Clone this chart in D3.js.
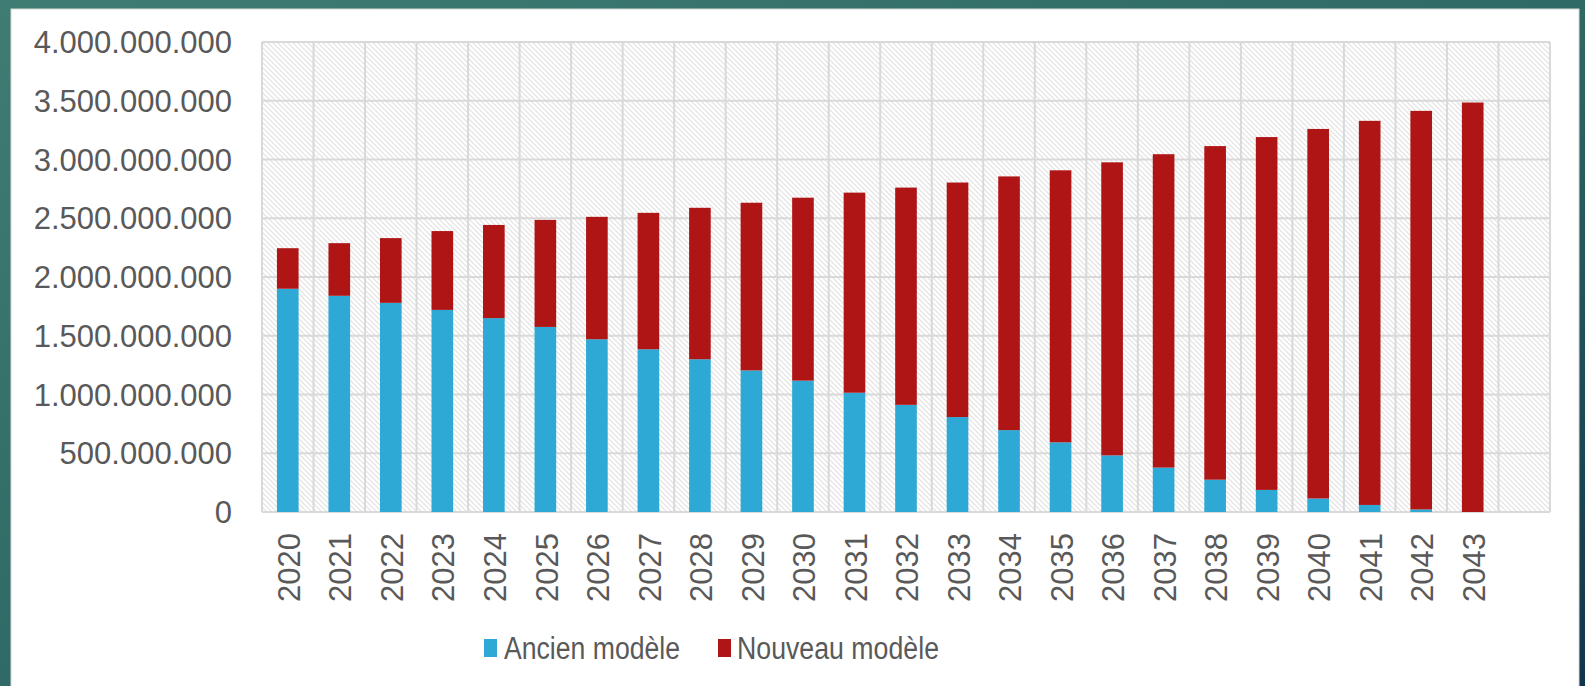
<!DOCTYPE html>
<html><head><meta charset="utf-8">
<script src="https://cdn.jsdelivr.net/npm/d3@7"></script>
<style>html,body{margin:0;padding:0;background:#fff;overflow:hidden}</style>
</head><body>
<svg id="chart" width="1585" height="686"></svg>
<script>
const years = ["2020","2021","2022","2023","2024","2025","2026","2027","2028","2029","2030","2031","2032","2033","2034","2035","2036","2037","2038","2039","2040","2041","2042","2043",""];
const ancien = [1900,1840,1780,1720,1650,1575,1470,1385,1300,1205,1118,1015,912,808,697,593,482,378,275,188,115,60,22,0,0].map(v=>v*1e6);
const nouveau = [345,448,551,671,793,911,1042,1161,1289,1427,1557,1703,1849,1996,2159,2315,2494,2667,2839,3003,3145,3269,3392,3485,0].map(v=>v*1e6);
const yTicks = [0,500000000,1000000000,1500000000,2000000000,2500000000,3000000000,3500000000,4000000000];
const seriesNames = ["Ancien modèle","Nouveau modèle"];
const colors = ["#2EA8D4","#AF1515"];

const svg = d3.select("#chart");
const defs = svg.append("defs");
const grad = defs.append("linearGradient").attr("id","bg").attr("x1","0").attr("y1","0").attr("x2","1").attr("y2","1");
grad.append("stop").attr("offset","0%").attr("stop-color","#3f7d73");
grad.append("stop").attr("offset","50%").attr("stop-color","#2f6a66");
grad.append("stop").attr("offset","100%").attr("stop-color","#10354a");
const pat = defs.append("pattern").attr("id","hatch").attr("patternUnits","userSpaceOnUse").attr("width",5).attr("height",5);
pat.append("rect").attr("width",5).attr("height",5).attr("fill","#ffffff");
pat.append("path").attr("d","M0,0L5,5M-1,4L1,6M4,-1L6,1").attr("stroke","#e2e2e2").attr("stroke-width",1.2);

svg.append("rect").attr("width",1585).attr("height",686).attr("fill","url(#bg)");
svg.append("rect").attr("x",11).attr("y",9).attr("width",1568).attr("height",690).attr("fill","#ffffff").attr("stroke","#d8d8d8").attr("stroke-width",1);

const L=262,R=1550,T=42,B=512;
const x = d3.scaleBand().domain(d3.range(years.length)).range([L,R]).paddingInner(0).paddingOuter(0);
const y = d3.scaleLinear().domain([0,4000000000]).range([B,T]);

svg.append("rect").attr("x",L).attr("y",T).attr("width",R-L).attr("height",B-T).attr("fill","url(#hatch)");

const g = svg.append("g");
g.selectAll("line.h").data(yTicks).join("line")
  .attr("x1",L).attr("x2",R).attr("y1",d=>y(d)).attr("y2",d=>y(d))
  .attr("stroke","#d9d9d9").attr("stroke-width",2);
const vb = d3.range(years.length+1).map(i=> i<years.length ? x(i) : R);
g.selectAll("line.v").data(vb).join("line")
  .attr("x1",d=>d).attr("x2",d=>d).attr("y1",T).attr("y2",B)
  .attr("stroke","#d9d9d9").attr("stroke-width",2);

const data = years.map((yr,i)=>({yr, a:ancien[i], n:nouveau[i]}));
const stack = d3.stack().keys(["a","n"])(data);
const bw = x.bandwidth()*0.42;
stack.forEach((s,si)=>{
  svg.append("g").selectAll("rect").data(s.map((d,i)=>({d,i}))).join("rect")
    .attr("x",o=>x(o.i)+x.bandwidth()/2-bw/2)
    .attr("width",bw)
    .attr("y",o=>y(o.d[1]))
    .attr("height",o=>Math.max(0,y(o.d[0])-y(o.d[1])))
    .attr("fill",colors[si]);
});

const font = "'Liberation Sans', Arial, sans-serif";
const fmt = v => d3.format(",")(v).replace(/,/g,".");
svg.append("g").selectAll("text").data(yTicks).join("text")
  .attr("x",232).attr("y",d=>y(d)).attr("dy","0.36em")
  .attr("text-anchor","end").attr("font-family",font).attr("font-size",31).attr("fill","#595959")
  .text(fmt);
svg.append("g").selectAll("text").data(years.map((t,i)=>({t,i}))).join("text")
  .attr("transform",o=>`translate(${x(o.i)+x.bandwidth()/2+1},533) rotate(-90)`)
  .attr("dy","0.36em").attr("text-anchor","end")
  .attr("font-family",font).attr("font-size",31).attr("fill","#595959")
  .text(o=>o.t);

const leg = [{x:484,tx:504,w:176},{x:718,tx:737,w:202}];
seriesNames.forEach((nm,i)=>{
  svg.append("rect").attr("x",leg[i].x).attr("y",639).attr("width",13).attr("height",18).attr("fill",colors[i]);
  svg.append("text").attr("x",leg[i].tx).attr("y",659).attr("font-family",font).attr("font-size",31)
    .attr("fill","#595959").attr("textLength",leg[i].w).attr("lengthAdjust","spacingAndGlyphs").text(nm);
});
</script>
</body></html>
